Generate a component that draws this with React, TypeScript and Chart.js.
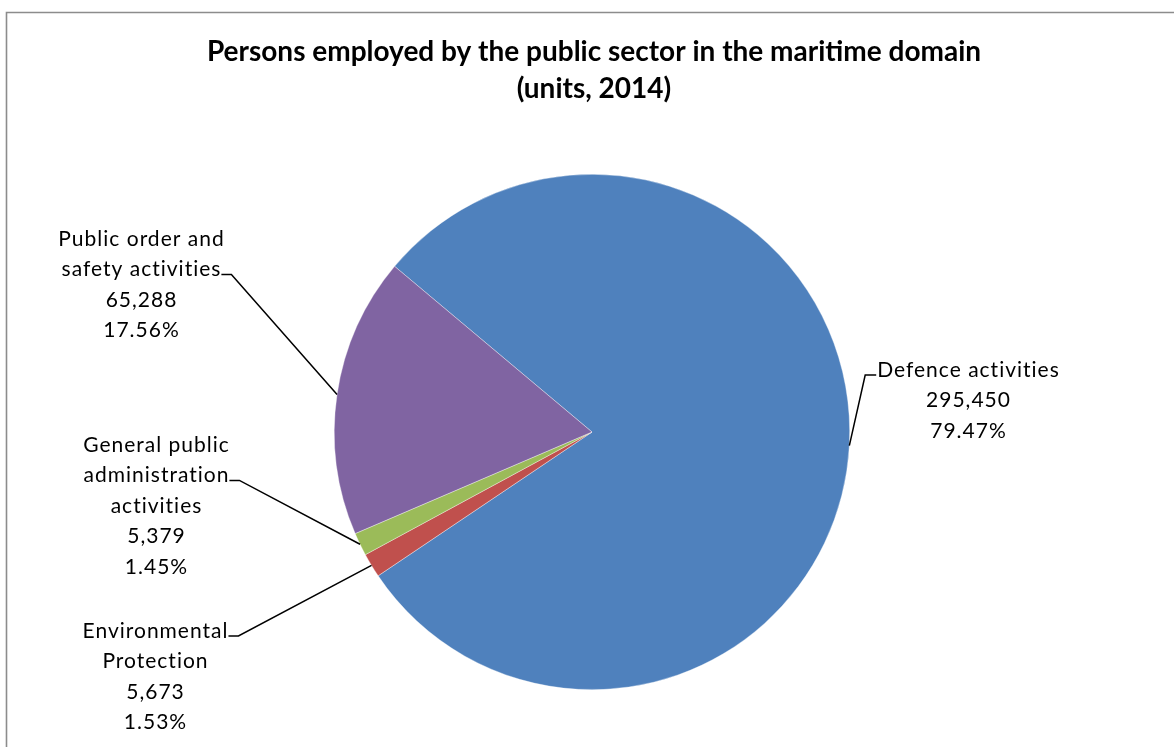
import React, { useEffect, useRef } from "react";
import { Chart, registerables } from "chart.js";

Chart.register(...registerables);

const titleLines = [
  "Persons employed by the public sector in the maritime domain",
  "(units, 2014)",
];
const categories = [
  "Defence activities",
  "Environmental Protection",
  "General public administration activities",
  "Public order and safety activities",
];
const labelLines = [
  ["Defence activities"],
  ["Environmental", "Protection"],
  ["General public", "administration", "activities"],
  ["Public order and", "safety activities"],
];
const values = [295450, 5673, 5379, 65288];
const colors = ["#4F81BD", "#C0504D", "#9BBB59", "#8064A2"];

// label layout: center x, first baseline y, index of line carrying the leader stub, stub side
const labelLayout = [
  { cx: 968, y: 377, stubLine: 0, side: "left" },
  { cx: 155, y: 638, stubLine: 0, side: "right" },
  { cx: 156, y: 452, stubLine: 1, side: "right" },
  { cx: 141, y: 246, stubLine: 1, side: "right" },
];

const LABEL_FONT = '21px Lato, "Open Sans", sans-serif';
const TITLE_FONT = 'bold 28px Lato, "Open Sans", sans-serif';
const LINE_H = 30.4;
const SPACING = 1;

const fmt = (v: number) => v.toLocaleString("en-US");

const drawPlugin = {
  id: "customDraw",
  beforeDraw(chart: any) {
    const ctx = chart.ctx;
    ctx.save();
    ctx.fillStyle = "#ffffff";
    ctx.fillRect(0, 0, chart.width, chart.height);
    ctx.strokeStyle = "#8c8c8c";
    ctx.lineWidth = 1.6;
    ctx.beginPath();
    ctx.moveTo(6.5, chart.height);
    ctx.lineTo(6.5, 12.5);
    ctx.lineTo(chart.width, 12.5);
    ctx.stroke();
    ctx.restore();
  },
  afterDraw(chart: any) {
    const ctx = chart.ctx;
    const total = values.reduce((a, b) => a + b, 0);
    ctx.save();
    // title
    ctx.fillStyle = "#000";
    ctx.textAlign = "center";
    ctx.textBaseline = "alphabetic";
    ctx.font = TITLE_FONT;
    ctx.fillText(titleLines[0], 594, 61);
    ctx.fillText(titleLines[1], 594, 98);

    const meta = chart.getDatasetMeta(0);
    ctx.font = LABEL_FONT;
    (ctx as any).letterSpacing = SPACING + "px";
    meta.data.forEach((arc: any, i: number) => {
      const lay = labelLayout[i];
      const lines = [
        ...labelLines[i],
        fmt(values[i]),
        ((values[i] / total) * 100).toFixed(2) + "%",
      ];
      ctx.fillStyle = "#000";
      ctx.textAlign = "center";
      lines.forEach((t, k) => ctx.fillText(t, lay.cx + SPACING / 2, lay.y + k * LINE_H));
      // leader line
      const p = arc.getProps(["x", "y", "startAngle", "endAngle", "outerRadius"], true);
      const mid = (p.startAngle + p.endAngle) / 2;
      const ax = p.x + Math.cos(mid) * p.outerRadius;
      const ay = p.y + Math.sin(mid) * p.outerRadius;
      const stubText = lines[lay.stubLine];
      const w = ctx.measureText(stubText).width - SPACING;
      const sy = lay.y + lay.stubLine * LINE_H - 2;
      let x0: number, x1: number;
      if (lay.side === "left") {
        x0 = lay.cx - w / 2 - 1;
        x1 = x0 - 11;
      } else {
        x0 = lay.cx + w / 2 + 1;
        x1 = x0 + 10;
      }
      ctx.strokeStyle = "#000";
      ctx.lineWidth = 1.5;
      ctx.beginPath();
      ctx.moveTo(x0, sy);
      ctx.lineTo(x1, sy);
      ctx.lineTo(ax, ay);
      ctx.stroke();
    });
    ctx.restore();
  },
};

export default function App() {
  const ref = useRef<HTMLCanvasElement | null>(null);
  useEffect(() => {
    if (!ref.current) return;
    const chart = new Chart(ref.current, {
      type: "pie",
      data: {
        labels: categories,
        datasets: [
          {
            data: values,
            backgroundColor: colors,
            borderColor: "rgba(255,255,255,0.6)",
            borderWidth: 0.6,
          },
        ],
      },
      options: {
        animation: false,
        responsive: false,
        rotation: -50,
        layout: { padding: { top: 174, bottom: 57, left: 334, right: 324 } },
        plugins: {
          legend: { display: false },
          title: { display: false },
          tooltip: { enabled: false },
        },
      },
      plugins: [drawPlugin],
    });
    return () => chart.destroy();
  }, []);
  return (
    <div style={{ position: "absolute", left: 0, top: 0, width: 1174, height: 747 }}>
      <canvas ref={ref} width={1174} height={747} />
    </div>
  );
}
